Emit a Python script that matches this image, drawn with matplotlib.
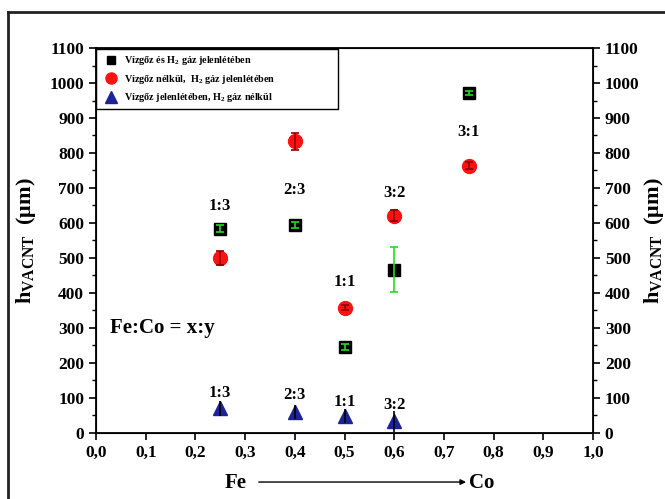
import matplotlib
matplotlib.use("Agg")
import matplotlib.pyplot as plt
from matplotlib.lines import Line2D
from matplotlib.ticker import MultipleLocator, FixedLocator

plt.rcParams["font.family"] = ["Liberation Serif", "DejaVu Serif"]
plt.rcParams["font.weight"] = "bold"
plt.rcParams["mathtext.fontset"] = "custom"
plt.rcParams["mathtext.rm"] = "Liberation Serif:bold"
plt.rcParams["mathtext.bf"] = "Liberation Serif:bold"
plt.rcParams["mathtext.it"] = "Liberation Serif:bold"
plt.rcParams["mathtext.default"] = "bf"

# Fe fraction (x axis)
x_fe = [0.25, 0.40, 0.50, 0.60, 0.75]

# Vízgőz és H2 gáz jelenlétében
h_both = [583, 595, 245, 467, 972]
err_both = [10, 8, 8, 64, 5]

# Vízgőz nélkül, H2 gáz jelenlétében
h_noh2o = [500, 833, 358, 621, 763]
err_noh2o = [20, 25, 8, 15, 10]

# Vízgőz jelenlétében, H2 gáz nélkül
x_noh2 = [0.25, 0.40, 0.50, 0.60]
h_noh2 = [70, 60, 48, 33]
err_noh2 = [22, 20, 20, 30]

ratio_upper = ["1:3", "2:3", "1:1", "3:2", "3:1"]
ratio_upper_y = [648, 694, 431, 686, 860]
ratio_lower = ["1:3", "2:3", "1:1", "3:2"]
ratio_lower_y = [115, 108, 89, 80]

xtick_vals = [i / 10 for i in range(11)]
xtick_labels = [f"{v:.1f}".replace(".", ",") for v in xtick_vals]

fig = plt.figure(figsize=(6.65, 4.99), dpi=100)
ax = fig.add_axes([0.1444, 0.1323, 0.7473, 0.7715])

ax.errorbar(x_fe, h_both, yerr=err_both, fmt="none", ecolor="#22dd22",
            elinewidth=1.2, capsize=3, capthick=1.2, zorder=4)
ax.plot(x_fe, h_both, "s", color="black", ms=8, zorder=3,
        label="Vízgőz és H$_2$ gáz jelenlétében")

ax.errorbar(x_fe, h_noh2o, yerr=err_noh2o, fmt="none", ecolor="#8b0000",
            elinewidth=1.2, capsize=3, capthick=1.2, zorder=4)
ax.plot(x_fe, h_noh2o, "o", color="#ff1111", ms=10, zorder=3,
        label="Vízgőz nélkül,  H$_2$ gáz jelenlétében")

ax.errorbar(x_noh2, h_noh2, yerr=err_noh2, fmt="none", ecolor="black",
            elinewidth=1.2, capsize=0, zorder=4)
ax.plot(x_noh2, h_noh2, "^", color="#1c2399", ms=10, zorder=3,
        label="Vízgőz jelenlétében, H$_2$ gáz nélkül")

for xv, yv, t in zip(x_fe, ratio_upper_y, ratio_upper):
    ax.text(xv, yv, t, ha="center", va="center", fontsize=12, fontweight="bold")
for xv, yv, t in zip(x_noh2, ratio_lower_y, ratio_lower):
    ax.text(xv, yv, t, ha="center", va="center", fontsize=12, fontweight="bold")

ax.text(0.028, 300, "Fe:Co = x:y", ha="left", va="center", fontsize=15,
        fontweight="bold")

ax.set_xlim(0, 1.0)
ax.set_ylim(0, 1100)
ax.xaxis.set_major_locator(FixedLocator(xtick_vals))
ax.set_xticklabels(xtick_labels)
ax.yaxis.set_major_locator(MultipleLocator(100))
ax.yaxis.set_minor_locator(MultipleLocator(50))
ax.tick_params(axis="both", which="major", direction="out", length=5,
               width=1.2, labelsize=12.5)
ax.tick_params(axis="y", which="minor", direction="out", length=3, width=1)
for s in ax.spines.values():
    s.set_linewidth(1.3)
ax.set_ylabel("h$_{VACNT}$  (μm)", fontsize=16, fontweight="bold",
              labelpad=8)

ax2 = ax.twinx()
ax2.set_ylim(0, 1100)
ax2.yaxis.set_major_locator(MultipleLocator(100))
ax2.yaxis.set_minor_locator(MultipleLocator(50))
ax2.tick_params(axis="y", which="major", direction="out", length=5, width=1.2,
                labelsize=12.5)
ax2.tick_params(axis="y", which="minor", direction="out", length=3, width=1)
ax2.set_ylabel("h$_{VACNT}$  (μm)", fontsize=16, fontweight="bold",
               labelpad=2, rotation=90)

leg = ax.legend(loc="upper left", bbox_to_anchor=(0.0, 0.0, 0.486, 0.997),
                mode="expand", fontsize=7.3, frameon=True, fancybox=False,
                edgecolor="black", framealpha=1, borderaxespad=0.0,
                handletextpad=0.3, borderpad=0.5, markerscale=0.8,
                labelspacing=0.55)
leg.get_frame().set_linewidth(1.0)

# Fe -> Co arrow under the axis
fig.text(0.355, 0.032, "Fe", ha="center", va="center", fontsize=15,
         fontweight="bold")
fig.text(0.725, 0.032, "Co", ha="center", va="center", fontsize=15,
         fontweight="bold")
ax.annotate("", xy=(0.705, 0.034), xytext=(0.385, 0.034),
            xycoords="figure fraction", textcoords="figure fraction",
            arrowprops=dict(arrowstyle="-|>", color="black", lw=1.0,
                            mutation_scale=8))

# outer frame lines (left and top)
fig.add_artist(Line2D([0.012, 0.012], [0, 0.975], color="#222222", lw=2,
                      transform=fig.transFigure))
fig.add_artist(Line2D([0.012, 1.0], [0.975, 0.975], color="#222222", lw=2,
                      transform=fig.transFigure))

fig.savefig("out.png", dpi=100, facecolor="white")
